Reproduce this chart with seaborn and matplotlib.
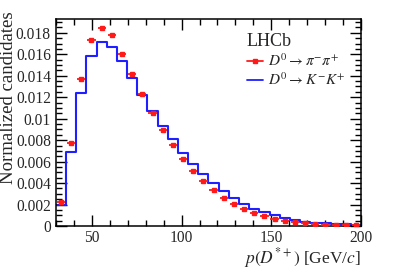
import numpy as np
import pandas as pd
import matplotlib
matplotlib.use("Agg")
import matplotlib.pyplot as plt
import seaborn as sns
from matplotlib.lines import Line2D
from matplotlib.ticker import MultipleLocator

# Data
edges = np.linspace(30, 200, 31)
kk_values = [0.0020, 0.0069, 0.01236, 0.01588, 0.01718, 0.01672, 0.01537, 0.01382, 0.0122, 0.0107,
             0.00935, 0.00807, 0.00683, 0.0058, 0.0048, 0.00396, 0.00325, 0.00263, 0.00207, 0.0016,
             0.00132, 0.0010, 0.00076, 0.00054, 0.0004, 0.0003, 0.00025, 0.0002, 0.00015, 0.0001]
pipi_values = [0.00222, 0.00776, 0.01367, 0.01737, 0.01845, 0.01777, 0.01606, 0.01416, 0.0123, 0.01052,
               0.00894, 0.00754, 0.0062, 0.00508, 0.00418, 0.00334, 0.00263, 0.00203, 0.0016, 0.00122,
               0.00091, 0.00067, 0.0005, 0.00035, 0.00025, 0.0002, 0.00013, 0.0001, 0.00007, 0.00005]
centers = 0.5 * (edges[:-1] + edges[1:])

sns.set_theme(style="ticks")
plt.rcParams['font.family'] = ['Liberation Serif', 'DejaVu Serif']
plt.rcParams['mathtext.fontset'] = 'stix'

fig = plt.figure(figsize=(3.99, 2.70), dpi=100)
ax = fig.add_axes([0.140, 0.163, 0.765, 0.767])

df = pd.DataFrame({"p": centers, "w": kk_values})
sns.histplot(data=df, x="p", weights="w", bins=30, binrange=(30, 200), element="step", fill=False,
             color="#1f1fff", linewidth=1.5, ax=ax)

ax.errorbar(centers, pipi_values, xerr=2.3, yerr=0.00008, fmt='s', color='#ff1a1a',
            markersize=2.5, elinewidth=1.3, capsize=0, zorder=3)

ax.set_xlim(30, 200)
ax.set_ylim(0, 0.0193)
ax.xaxis.set_major_locator(MultipleLocator(50))
ax.xaxis.set_minor_locator(MultipleLocator(10))
ax.yaxis.set_major_locator(MultipleLocator(0.002))
ax.yaxis.set_minor_locator(MultipleLocator(0.0005))
ax.yaxis.set_major_formatter(matplotlib.ticker.FuncFormatter(lambda v, p: "0" if abs(v) < 1e-12 else ("%g" % round(v, 4))))
ax.tick_params(which='both', direction='in', top=True, right=True, labelsize=11.2, width=1.0, color='black')
ax.tick_params(which='major', length=8)
ax.tick_params(which='minor', length=4)
ax.tick_params(axis='x', pad=3)
for s in ax.spines.values():
    s.set_linewidth(1.1)
    s.set_color('black')

ax.set_xlabel(r"$p(D^{*+})$ [GeV/$c$]", fontsize=12.5, loc='right', va='top')
ax.xaxis.set_label_coords(1.0, -0.097)
ax.set_ylabel("Normalized candidates", fontsize=13.5, loc='top')
ax.yaxis.set_label_coords(-0.128, 1.035)

handles = [Line2D([], [], color='#ff1a1a', marker='s', markersize=2.5, linewidth=1.3),
           Line2D([], [], color='#1f1fff', linewidth=1.3)]
labels = [r"$D^0 \rightarrow \pi^{-}\pi^{+}$", r"$D^0 \rightarrow K^{-}K^{+}$"]
leg = ax.legend(handles, labels, title="LHCb", loc='upper left', bbox_to_anchor=(0.585, 0.99),
                frameon=False, fontsize=11, title_fontsize=13, handlelength=1.1,
                handletextpad=0.3, labelspacing=0.15, borderpad=0.3)
leg._legend_box.align = "left"

fig.savefig("out.png", dpi=100)
